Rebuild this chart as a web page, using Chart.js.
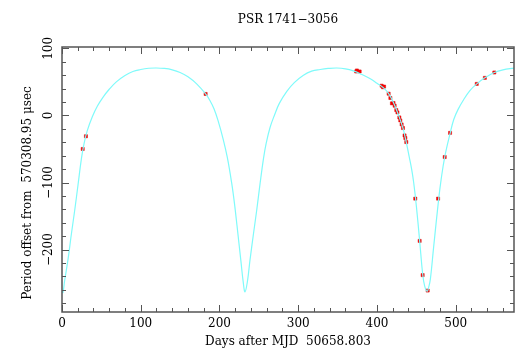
<!DOCTYPE html>
<html>
<head>
<meta charset="utf-8">
<script src="https://cdn.jsdelivr.net/npm/chart.js@4.4.1/dist/chart.umd.min.js"></script>
<style>
  body { margin: 0; background: #fff; }
  #wrap { width: 529px; height: 354px; }
</style>
</head>
<body>
<div id="wrap"><canvas id="psrChart" width="529" height="354"></canvas></div>
<script>
// model orbit curve
const curveDays = [0, 1.2, 3.4, 7.6, 12, 16.2, 20.4, 24.7, 28, 32, 38.5, 45, 52, 60, 69, 80, 90, 100, 110, 120,
  130, 140, 150, 160, 171, 182.4, 188, 193, 198, 204.8, 210, 215.5, 219, 222.4, 227, 230.3, 232.4, 235.4, 238.8,
  243.2, 247.3, 251.6, 255.9, 259.2, 264.2, 270, 276, 285.5, 295, 306.6, 317, 327.9, 338, 349, 360, 370, 380,
  391.5, 400, 408.4, 414.8, 421, 427.5, 433, 437.2, 441, 444, 446.6, 450, 454.2, 458, 460.5, 463.6, 465.5, 467.8,
  472, 478.4, 481.4, 486, 493, 497.5, 503, 510, 518, 526.7, 537, 549, 560, 574];
const curveValues = [-262, -264, -246, -215, -176, -141, -103, -64, -42, -23, -2, 14, 27, 39, 50, 59.5, 65.5, 68.5, 70.3, 70.7,
  70, 68, 64, 57.5, 47, 32, 22, 10, -7, -36, -63, -101, -131, -166, -215, -250, -263, -248, -215,
  -176, -141, -101, -64, -42, -18, 1, 18, 36, 49, 60, 66, 68.5, 70, 70.7, 69.5, 66.5, 61.5,
  54.8, 48, 41, 32.4, 19, 0, -19, -40, -62, -80, -100, -135, -187, -236, -254, -262, -257, -244,
  -195.5, -124, -96, -62, -26, -6, 9, 23.4, 37, 47, 56, 64, 68, 70.5];

// timing measurements
const obsDays = [26.3, 30.4, 182.4, 373.6, 374.5, 378, 405.9, 407.6, 409, 414.8, 417, 419, 421, 422.4, 424.5,
  426, 428.4, 429.6, 431.3, 433, 435, 436, 437.2, 448.6, 454.2, 458, 464.4, 477.6, 486, 492.8,
  526.7, 537, 549];
const obsValues = [-50, -31, 32, 65.5, 67, 65.5, 44.3, 42, 43, 32.4, 26, 18, 18.5, 14.5, 8,
  4.5, -3, -7.5, -13.4, -18.8, -29.8, -33.7, -39.7, -124, -187, -238, -261, -124, -62, -26,
  47, 56, 64];

const xTicks = [0, 100, 200, 300, 400, 500];
const yTicks = [-200, -100, 0, 100];

const FONT = 'DejaVu Serif';
const AXIS = '#555';

// PGPLOT style box: frame plus inward ticks on every side, rotated y labels, titles
const boxPlugin = {
  id: 'pgbox',
  afterDatasetsDraw(chart) {
    const { ctx, chartArea: a, scales: { x, y } } = chart;
    ctx.save();
    ctx.strokeStyle = AXIS;
    ctx.lineWidth = 1.5;
    ctx.strokeRect(a.left, a.top, a.right - a.left, a.bottom - a.top);
    ctx.lineWidth = 1;
    ctx.beginPath();
    for (let v = Math.ceil(x.min / 20) * 20; v <= x.max; v += 20) {
      const px = Math.round(x.getPixelForValue(v)) + 0.5;
      const len = v % 100 === 0 ? 7 : 4;
      ctx.moveTo(px, a.bottom); ctx.lineTo(px, a.bottom - len);
      ctx.moveTo(px, a.top); ctx.lineTo(px, a.top + len);
    }
    for (let v = Math.ceil(y.min / 20) * 20; v <= y.max; v += 20) {
      const py = Math.round(y.getPixelForValue(v)) + 0.5;
      const len = v % 100 === 0 ? 7 : 4;
      ctx.moveTo(a.left, py); ctx.lineTo(a.left + len, py);
      ctx.moveTo(a.right, py); ctx.lineTo(a.right - len, py);
    }
    ctx.stroke();

    ctx.fillStyle = '#000';
    ctx.font = '12px "' + FONT + '"';
    ctx.textAlign = 'center';
    ctx.textBaseline = 'middle';
    yTicks.forEach(v => {
      ctx.save();
      ctx.translate(a.left - 13, y.getPixelForValue(v));
      ctx.rotate(-Math.PI / 2);
      ctx.fillText(String(v).replace('-', '\u2212'), 0, 0);
      ctx.restore();
    });

    ctx.fillText('PSR 1741\u22123056', (a.left + a.right) / 2, 20);

    ctx.save();
    ctx.translate(28, 193);
    ctx.rotate(-Math.PI / 2);
    ctx.fillText('Period offset from  570308.95 \u03bcsec', 0, 0);
    ctx.restore();
    ctx.restore();
  }
};

new Chart(document.getElementById('psrChart'), {
  type: 'scatter',
  data: {
    datasets: [
      {
        label: 'model',
        type: 'line',
        data: curveDays.map((d, i) => ({ x: d, y: curveValues[i] })),
        borderColor: '#7ffafa',
        borderWidth: 1.2,
        pointRadius: 0,
        tension: 0.4,
        fill: false
      },
      {
        label: 'observed',
        data: obsDays.map((d, i) => ({ x: d, y: obsValues[i] })),
        backgroundColor: '#ff0000',
        borderColor: '#d80000',
        borderWidth: 0.5,
        pointStyle: 'rect',
        pointRadius: 2.2
      }
    ]
  },
  plugins: [boxPlugin],
  options: {
    responsive: false,
    animation: false,
    layout: { padding: { left: 0, right: 15, top: 47, bottom: 0 } },
    plugins: {
      legend: { display: false },
      tooltip: { enabled: false },
      title: { display: false }
    },
    scales: {
      x: {
        type: 'linear',
        min: 0,
        max: 574,
        afterFit: s => { s.height = 42; },
        afterBuildTicks: s => { s.ticks = xTicks.map(v => ({ value: v })); },
        grid: { display: false, drawTicks: false },
        border: { display: false },
        ticks: { color: '#000', padding: 5, maxRotation: 0, font: { family: FONT, size: 12 } },
        title: {
          display: true,
          text: 'Days after MJD  50658.803',
          color: '#000',
          font: { family: FONT, size: 12 },
          padding: { top: 0, bottom: 5 }
        }
      },
      y: {
        type: 'linear',
        min: -293,
        max: 102,
        afterFit: s => { s.width = 62; },
        afterBuildTicks: s => { s.ticks = yTicks.map(v => ({ value: v })); },
        grid: { display: false, drawTicks: false },
        border: { display: false },
        ticks: { display: false },
        title: { display: false }
      }
    }
  }
});
</script>
</body>
</html>
